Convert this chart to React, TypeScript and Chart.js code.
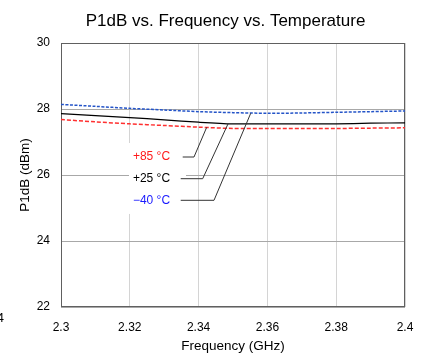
import React, { useEffect, useRef } from "react";
import { Chart, registerables } from "chart.js";

Chart.register(...registerables);

const chartTitle = "P1dB vs. Frequency vs. Temperature";
const frequencies = [2.3, 2.31, 2.32, 2.33, 2.34, 2.35, 2.36, 2.37, 2.38, 2.39, 2.4];
const p1dbMinus40 = [28.14, 28.08, 28.02, 27.97, 27.92, 27.89, 27.87, 27.88, 27.9, 27.92, 27.94];
const p1dbPlus25 = [27.86, 27.8, 27.74, 27.67, 27.6, 27.55, 27.55, 27.55, 27.55, 27.57, 27.58];
const p1dbPlus85 = [27.68, 27.61, 27.55, 27.5, 27.45, 27.41, 27.41, 27.41, 27.41, 27.42, 27.43];
const seriesLabels = ["\u221240 \u00B0C", "+25 \u00B0C", "+85 \u00B0C"];
const yTicks = [22, 24, 26, 28, 30];
const xTicks = [2.3, 2.32, 2.34, 2.36, 2.38, 2.4];

// annotation anchors in data coordinates
const labelX = 2.3209;
const labelYs = [25.233, 25.888, 26.545];
const leaderStartX = [2.3348, 2.3348, 2.33538];
const leaderElbowX = [2.34448, 2.34119, 2.33866];
const leaderTips = [
  [2.35515, 27.87],
  [2.34863, 27.567],
  [2.34235, 27.445],
];
const labelBox = [2.31977, 26.97, 2.33634, 24.82];

const lineColors = ["#2454c8", "#000000", "#ff3030"];
const labelColors = ["#1a1aff", "#000000", "#ff1a1a"];

const toPts = (ys: number[]) => frequencies.map((x, i) => ({ x, y: ys[i] }));

export default function App() {
  const ref = useRef<HTMLCanvasElement | null>(null);
  useEffect(() => {
    if (!ref.current) return;
    Chart.defaults.font.family = "'Liberation Sans', Arial, sans-serif";
    const annot = {
      id: "annot",
      beforeDatasetsDraw(chart: any) {
        const { ctx, scales } = chart;
        const xs = scales.x, ys = scales.y;
        const x0 = xs.getPixelForValue(labelBox[0]);
        const y0 = ys.getPixelForValue(labelBox[1]);
        const x1 = xs.getPixelForValue(labelBox[2]);
        const y1 = ys.getPixelForValue(labelBox[3]);
        ctx.save();
        ctx.fillStyle = "#ffffff";
        ctx.fillRect(x0, y0, x1 - x0, y1 - y0);
        const a = chart.chartArea;
        ctx.strokeStyle = "#606060";
        ctx.lineWidth = 1;
        ctx.strokeRect(Math.round(a.left) + 0.5, Math.round(a.top) + 0.5, Math.round(a.right - a.left) - 1, Math.round(a.bottom - a.top) - 1);
        ctx.restore();
      },
      afterDatasetsDraw(chart: any) {
        const { ctx, scales } = chart;
        const xs = scales.x, ys = scales.y;
        ctx.save();
        ctx.font = "12px 'Liberation Sans', Arial, sans-serif";
        ctx.textBaseline = "middle";
        ctx.textAlign = "left";
        for (let i = 0; i < 3; i++) {
          const ly = ys.getPixelForValue(labelYs[i]);
          ctx.fillStyle = labelColors[i];
          ctx.fillText(seriesLabels[i], xs.getPixelForValue(labelX), ly);
          ctx.strokeStyle = "#333333";
          ctx.lineWidth = 1;
          ctx.beginPath();
          ctx.moveTo(xs.getPixelForValue(leaderStartX[i]), ly);
          ctx.lineTo(xs.getPixelForValue(leaderElbowX[i]), ly);
          ctx.lineTo(xs.getPixelForValue(leaderTips[i][0]), ys.getPixelForValue(leaderTips[i][1]));
          ctx.stroke();
        }
        ctx.fillStyle = "#000";
        ctx.font = "17px 'Liberation Sans', Arial, sans-serif";
        ctx.textAlign = "center";
        ctx.fillText(chartTitle, 225.5, 21.5);
        ctx.font = "13px 'Liberation Sans', Arial, sans-serif";
        ctx.textAlign = "right";
        ctx.fillText("4", 4, 318);
        ctx.restore();
      },
    };
    const chart = new Chart(ref.current, {
      type: "line",
      data: {
        datasets: [
          { label: seriesLabels[0], data: toPts(p1dbMinus40), borderColor: lineColors[0], borderWidth: 1.5, borderDash: [3, 1.5], pointRadius: 0, tension: 0.3, fill: false },
          { label: seriesLabels[1], data: toPts(p1dbPlus25), borderColor: lineColors[1], borderWidth: 1.2, pointRadius: 0, tension: 0.3, fill: false },
          { label: seriesLabels[2], data: toPts(p1dbPlus85), borderColor: lineColors[2], borderWidth: 1.5, borderDash: [4, 2], pointRadius: 0, tension: 0.3, fill: false },
        ],
      },
      options: {
        animation: false,
        responsive: true,
        maintainAspectRatio: false,
        layout: { padding: { top: 43, left: 0, right: 0, bottom: 0 } },
        plugins: {
          legend: { display: false },
          tooltip: { enabled: false },
          title: { display: false },
        },
        scales: {
          x: {
            type: "linear",
            min: 2.3,
            max: 2.4,
            afterBuildTicks: (s: any) => { s.ticks = xTicks.map((v) => ({ value: v })); },
            afterFit: (s: any) => { s.height = 47; s.paddingLeft = 0; s.paddingRight = 20; },
            ticks: {
              color: "#000",
              font: { size: 12 },
              padding: 13,
              maxRotation: 0,
              callback: (v: any) => String(Number(Number(v).toFixed(2))),
            },
            grid: { color: "#d4d4d4", drawTicks: false },
            border: { display: false },
            title: { display: true, text: "Frequency (GHz)", color: "#000", font: { size: 13.5 }, padding: { top: 0, bottom: 0 } },
          },
          y: {
            min: 22,
            max: 30,
            afterBuildTicks: (s: any) => { s.ticks = yTicks.map((v) => ({ value: v })); },
            afterFit: (s: any) => { s.width = 61; s.paddingTop = 0; },
            ticks: { color: "#000", font: { size: 12 }, padding: 11 },
            grid: { color: "#a8a8a8", drawTicks: false },
            border: { display: false },
            title: { display: true, text: "P1dB (dBm)", color: "#000", font: { size: 13.5 }, padding: { top: 17, bottom: 0 } },
          },
        },
      },
      plugins: [annot],
    });
    return () => chart.destroy();
  }, []);
  return (
    <div style={{ position: "absolute", left: 0, top: 0, width: 425, height: 354, background: "#fff" }}>
      <canvas ref={ref} />
    </div>
  );
}
